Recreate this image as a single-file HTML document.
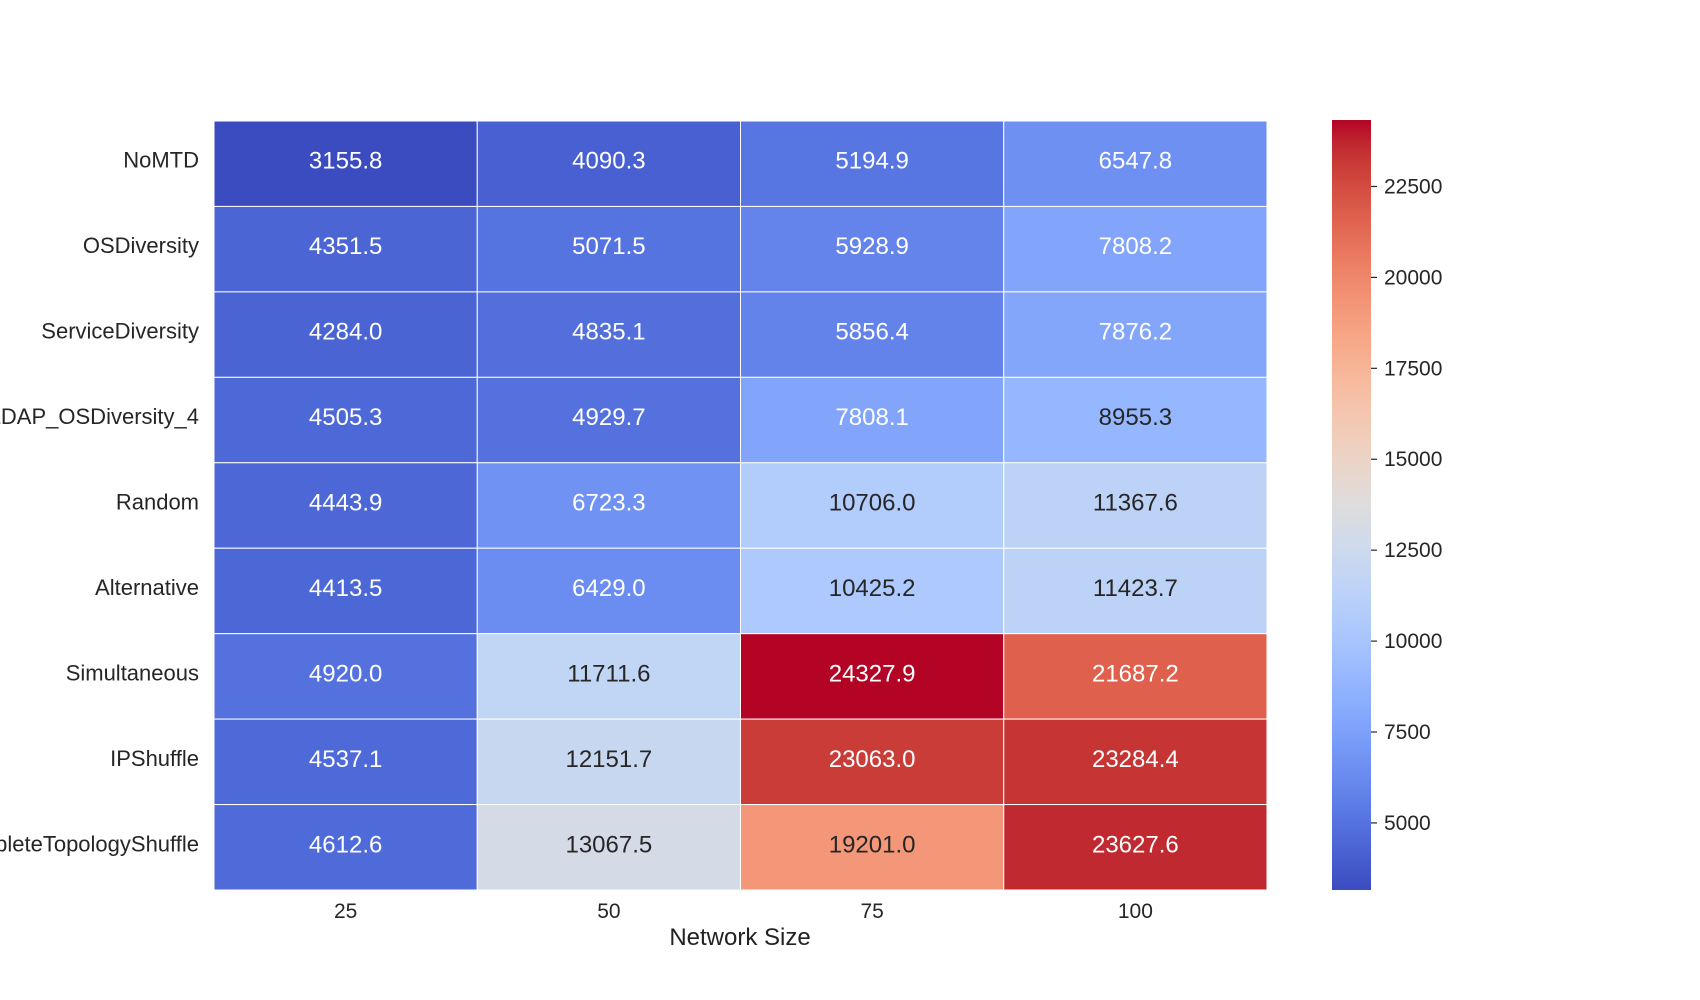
<!DOCTYPE html>
<html><head><meta charset="utf-8"><style>
html,body{margin:0;padding:0;background:#fff;}
svg{display:block;font-family:"Liberation Sans",Arial,sans-serif;}
</style></head><body>
<svg id="chart" width="1700" height="1000" viewBox="0 0 1700 1000">
<defs><linearGradient id="cbgrad" x1="0" y1="1" x2="0" y2="0"></linearGradient></defs>
<g id="cells"></g>
<g id="ylabels"></g>
<g id="xlabels"></g>
<text x="740" y="945" font-size="24" fill="#222" text-anchor="middle">Network Size</text>
<rect x="1332" y="120" width="39" height="770" fill="url(#cbgrad)"></rect>
<g id="cbticks"></g>
</svg>
<script>
const rows = ["NoMTD","OSDiversity","ServiceDiversity","LDAP_OSDiversity_4","Random","Alternative","Simultaneous","IPShuffle","CompleteTopologyShuffle"];
const cols = ["25","50","75","100"];
const v25 = [3155.8,4351.5,4284.0,4505.3,4443.9,4413.5,4920.0,4537.1,4612.6];
const v50 = [4090.3,5071.5,4835.1,4929.7,6723.3,6429.0,11711.6,12151.7,13067.5];
const v75 = [5194.9,5928.9,5856.4,7808.1,10706.0,10425.2,24327.9,23063.0,19201.0];
const v100 = [6547.8,7808.2,7876.2,8955.3,11367.6,11423.7,21687.2,23284.4,23627.6];
const cbTicks = [5000,7500,10000,12500,15000,17500,20000,22500];

const NS="http://www.w3.org/2000/svg";
const L=214,R=1267,T=121,B=890;
const series=[v25,v50,v75,v100];
const all=series.flat();
const vmin=Math.min(...all), vmax=Math.max(...all);
const cw=(R-L)/cols.length, ch=(B-T)/rows.length;
const xPos=i=>L+i*cw, yPos=j=>T+j*ch;
const cbY=v=>890-(v-vmin)/(vmax-vmin)*770;

const cmap=[[59,76,192],[68,90,204],[77,104,215],[87,117,225],[98,130,234],[108,142,241],[119,154,247],[130,165,251],[141,176,254],[152,185,255],[163,194,255],[174,201,253],[184,208,249],[194,213,244],[204,217,238],[213,219,230],[221,221,221],[229,216,209],[236,211,197],[241,204,184],[245,196,172],[247,187,159],[247,177,147],[247,166,134],[244,154,123],[241,141,111],[236,127,99],[229,112,89],[222,96,77],[213,80,67],[203,62,56],[192,40,47],[180,4,38]];
function color(t){t=Math.max(0,Math.min(1,t));const p=t*32,i=Math.min(31,Math.floor(p)),f=p-i;
 return cmap[i].map((c,k)=>Math.round(c+(cmap[i+1][k]-c)*f));}
function lum(c){const l=c.map(x=>{x/=255;return x<=0.03928?x/12.92:Math.pow((x+0.055)/1.055,2.4)});return 0.2126*l[0]+0.7152*l[1]+0.0722*l[2];}

const g=document.getElementById('cbgrad');
for(let i=0;i<=32;i++){const s=document.createElementNS(NS,'stop');s.setAttribute('offset',(i/32));s.setAttribute('stop-color','rgb('+cmap[i].join(',')+')');g.appendChild(s);}

const cells=document.getElementById('cells');
series.forEach((arr,i)=>arr.forEach((v,j)=>{
 const c=color((v-vmin)/(vmax-vmin));
 const r=document.createElementNS(NS,'rect');
 r.setAttribute('x',xPos(i));r.setAttribute('y',yPos(j));r.setAttribute('width',cw);r.setAttribute('height',ch);
 r.setAttribute('fill','rgb('+c.join(',')+')');r.setAttribute('stroke','#fff');r.setAttribute('stroke-width','1');
 
 
 cells.appendChild(r);
 const t=document.createElementNS(NS,'text');
 t.setAttribute('x',xPos(i)+cw/2);t.setAttribute('y',yPos(j)+ch/2+5);t.setAttribute('text-anchor','middle');
 t.setAttribute('font-size','24');t.setAttribute('fill',lum(c)>0.408?'#262626':'#ffffff');
 t.textContent=v.toFixed(1);
 
 
 cells.appendChild(t);
}));
const yl=document.getElementById('ylabels');
rows.forEach((n,j)=>{const t=document.createElementNS(NS,'text');
 t.setAttribute('x',199);t.setAttribute('y',yPos(j)+ch/2+4);t.setAttribute('text-anchor','end');t.setAttribute('font-size','22');t.setAttribute('fill','#262626');
 t.textContent=n;
 
 
 yl.appendChild(t);});
const xl=document.getElementById('xlabels');
cols.forEach((n,i)=>{const t=document.createElementNS(NS,'text');
 t.setAttribute('x',xPos(i)+cw/2);t.setAttribute('y',918);t.setAttribute('text-anchor','middle');t.setAttribute('font-size','21');t.setAttribute('fill','#262626');
 t.textContent=n;
 
 
 xl.appendChild(t);});
const cb=document.getElementById('cbticks');
cbTicks.forEach(v=>{const y=cbY(v);
 const l=document.createElementNS(NS,'line');l.setAttribute('x1',1371);l.setAttribute('x2',1377);l.setAttribute('y1',y);l.setAttribute('y2',y);l.setAttribute('stroke','#262626');l.setAttribute('stroke-width','1.2');
 
 
 cb.appendChild(l);
 const t=document.createElementNS(NS,'text');t.setAttribute('x',1384);t.setAttribute('y',y+7);t.setAttribute('font-size','21');t.setAttribute('fill','#262626');t.textContent=v;
 
 
 cb.appendChild(t);});
</script>
</body></html>
